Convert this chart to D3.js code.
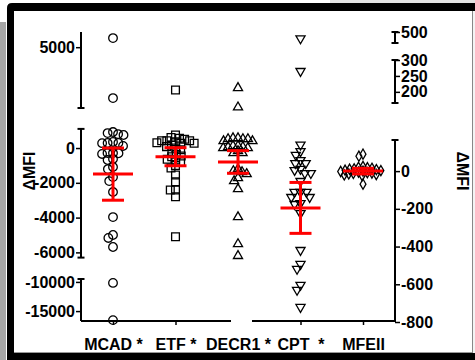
<!DOCTYPE html>
<meta charset="utf-8">
<style>
body { margin: 0; background: #fff; }
svg { display: block; }
.tick text, .cat { font-family: "Liberation Sans Narrow", "Arial Narrow", sans-serif; font-weight: bold; font-size: 16px; fill: #000; }
.tick line { stroke: #000; stroke-width: 1.5px; }
.title { font-family: "Liberation Sans", Arial, sans-serif; font-weight: bold; font-size: 16px; }
.axisline { stroke: #000; stroke-width: 2px; }
.mark { fill: none; stroke: #000; stroke-width: 1.3px; }
.err { stroke: #ff0000; stroke-width: 3px; fill: none; }
</style>
<body>
<script src="https://d3js.org/d3.v7.min.js"></script>
<script>

// categories and their labels
var categories = ["MCAD", "ETF", "DECR1", "CPT", "MFEII"];
var catLabels = ["MCAD *", "ETF *", "DECR1 *", "CPT  *", "MFEII"];
var catAxis = ["left", "left", "left", "right", "right"];

// individual values
var mcad = [5600, 1650, 920, 860, 800, 750, 350, 290, 290, 280, 120, -290, -290, -340, -300,
            -630, -690, -1090, -1210, -1670, -1900, -2530, -3970, -5000, -5170, -5690, -10170, -16550];
var etf = [2180, 750, 600, 560, 500, 420, 420, 420, 360, 300, 270, 270, 170, 80, 0, -100, -200,
           -360, -460, -500, -650, -690, -790, -1000, -1150, -1550, -1940, -2410, -2410, -2800, -5100];
var decr1 = [2320, 1050, 570, 570, 520, 520, 520, 400, 400, 120, 120, 60, 60, 0, 0, -170, -290, -290,
             -1210, -1320, -1380, -1490, -1720, -1900, -2360, -3970, -5520, -6200];
var cpt = [480, 265, 140, 105, 85, 58, 42, 42, 11, 5, -11, -11, -53, -111, -111, -111, -138, -138,
           -170, -175, -223, -419, -493, -519, -604, -630, -721];
var mfeii = [90, 79, 25, 20, 18, 15, 12, 10, 8, 5, 3, 0, -2, -5, -8, -10, -12, -15, -18, -20, -24, -69];

// mean and SD bars
var means = [-1500, -500, -800, -195, 0];
var sds = [1500, 520, 650, 135, 15];

// tick labels
var leftTicksTop = [5000], leftTicksMid = [0, -2000, -4000, -6000], leftTicksLow = [-10000, -15000];
var rightTicksTop = [500], rightTicksMid = [200, 250, 300], rightTicksLow = [0, -200, -400, -600, -800];

var width = 475, height = 360;

var svg = d3.select("body").append("svg")
    .attr("width", width)
    .attr("height", height);

// frame around the picture
svg.append("rect").attr("x", 330).attr("y", 0).attr("width", 145).attr("height", 3).attr("fill", "#e4e4e4");
svg.append("rect").attr("x", 0).attr("y", 22).attr("width", 6).attr("height", 338).attr("fill", "#a6a6a6");
svg.append("path").attr("d", "M7,360V8Q7,3 12,3H475V360Z").attr("fill", "#000");
svg.append("rect").attr("x", 14).attr("y", 11).attr("width", 458).attr("height", 342).attr("fill", "#fff");
svg.append("rect").attr("x", 472).attr("y", 11).attr("width", 1).attr("height", 342).attr("fill", "#888");
svg.append("rect").attr("x", 473).attr("y", 11).attr("width", 2).attr("height", 342).attr("fill", "#f4f4f4");
svg.append("rect").attr("x", 14).attr("y", 352).attr("width", 458).attr("height", 1).attr("fill", "#999");

// x scale
var x = d3.scalePoint().domain(categories).range([81, 395]).padding(0.512);
var xLeft = x.range()[0], xRight = x.range()[1];

// broken y axes: [bottom cap, top cap]
var leftSegs = [
  {dom: [1000, 6000], rng: [108, 32], ticks: leftTicksTop, caps: [true, false]},
  {dom: [-6300, 1100], rng: [257.6, 128.9], ticks: leftTicksMid, caps: [true, true]},
  {dom: [-16700, -9500], rng: [321, 279], ticks: leftTicksLow, caps: [false, true]}
];
var rightSegs = [
  {dom: [466, 500], rng: [43, 32], ticks: rightTicksTop, caps: [true, true]},
  {dom: [165, 300], rng: [103, 60], ticks: rightTicksMid, caps: [true, true]},
  {dom: [-800, 165], rng: [322, 140], ticks: rightTicksLow, caps: [false, true]}
];

function drawSeg(seg, orient, x0) {
  seg.scale = d3.scaleLinear().domain(seg.dom).range(seg.rng);
  var ax = (orient === "left" ? d3.axisLeft(seg.scale) : d3.axisRight(seg.scale))
      .tickValues(seg.ticks).tickSize(5).tickPadding(1)
      .tickFormat(function(d) { return String(d); });
  var g = svg.append("g").attr("transform", "translate(" + x0 + ",0)").call(ax);
  g.select(".domain").remove();
  g.append("line").attr("class", "axisline").attr("y1", seg.rng[0]).attr("y2", seg.rng[1]);
  seg.caps.forEach(function(c, i) {
    if (c) g.append("line").attr("class", "axisline")
        .attr("x1", -3.5).attr("x2", 3.5).attr("y1", seg.rng[i]).attr("y2", seg.rng[i]);
  });
}
leftSegs.forEach(function(s) { drawSeg(s, "left", xLeft); });
rightSegs.forEach(function(s) { drawSeg(s, "right", xRight); });

function piece(segs) {
  return function(v) {
    var s = segs.find(function(s) { return v >= s.dom[0] && v <= s.dom[1]; });
    return s.scale(v);
  };
}
var yL = piece(leftSegs), yR = piece(rightSegs);

// x axis, broken between DECR1 and CPT
var xg = svg.append("g").attr("transform", "translate(0,321)")
    .call(d3.axisBottom(x).tickSize(4).tickPadding(14).tickFormat(function(d, i) { return catLabels[i]; }));
xg.select(".domain").remove();
xg.selectAll(".tick text").attr("class", "cat").style("white-space", "pre");
xg.selectAll(".tick line").filter(function(d) { return d === "DECR1"; }).remove();
xg.append("line").attr("class", "axisline").attr("x1", xLeft).attr("x2", x("DECR1") - 7);
xg.append("line").attr("class", "axisline").attr("x1", x("DECR1") + 14).attr("x2", xRight);

// axis titles
svg.append("text").attr("class", "title").attr("text-anchor", "middle")
    .attr("transform", "translate(35,171) rotate(-90)").text("\u0394MFI");
svg.append("text").attr("class", "title").attr("text-anchor", "middle")
    .attr("transform", "translate(457,171) rotate(90)").text("\u0394MFI");

// spread points sideways so they do not stack
function swarm(ys, d) {
  var order = ys.map(function(y, i) { return i; }).sort(function(a, b) { return ys[a] - ys[b]; });
  var placed = [], xs = [];
  order.forEach(function(i) {
    var y = ys[i], blocked = [];
    placed.forEach(function(p) {
      var dy = Math.abs(p.y - y);
      if (dy < d) { var w = Math.sqrt(d * d - dy * dy); blocked.push([p.x - w, p.x + w]); }
    });
    var cands = [0];
    blocked.forEach(function(b) { cands.push(b[0], b[1]); });
    cands.sort(function(a, b) { return Math.abs(a) - Math.abs(b); });
    var cx = cands.find(function(c) { return blocked.every(function(b) { return c <= b[0] || c >= b[1]; }); });
    xs[i] = cx;
    placed.push({x: cx, y: y});
  });
  return xs;
}

var series = [mcad, etf, decr1, cpt, mfeii];
var shapes = [
  d3.symbol(d3.symbolCircle, 58),
  d3.symbol(d3.symbolSquare, 60),
  d3.symbol(d3.symbolTriangle, 36),
  d3.symbol(d3.symbolTriangle, 36),
  d3.symbol(d3.symbolDiamond, 30)
];
var spread = [5.5, 5.2, 5, 6, 4.6];

series.forEach(function(vals, k) {
  var y = catAxis[k] === "left" ? yL : yR;
  var ys = vals.map(y);
  var xs = swarm(ys, spread[k]);
  svg.append("g").selectAll("path")
    .data(vals)
    .enter().append("path")
      .attr("class", "mark")
      .attr("d", shapes[k])
      .attr("transform", function(d, i) {
        return "translate(" + (x(categories[k]) + xs[i]) + "," + ys[i] + ")" + (k === 3 ? " rotate(180)" : "");
      });
});

// mean +/- SD
categories.forEach(function(c, k) {
  var y = catAxis[k] === "left" ? yL : yR;
  var cx = x(c), g = svg.append("g");
  var top = y(means[k] + sds[k]), bot = y(means[k] - sds[k]), mid = y(means[k]);
  g.append("line").attr("class", "err").attr("x1", cx).attr("x2", cx).attr("y1", top).attr("y2", bot);
  g.append("line").attr("class", "err").attr("x1", cx - 11).attr("x2", cx + 11).attr("y1", top).attr("y2", top);
  g.append("line").attr("class", "err").attr("x1", cx - 11).attr("x2", cx + 11).attr("y1", bot).attr("y2", bot);
  g.append("line").attr("class", "err").attr("x1", cx - 20).attr("x2", cx + 20).attr("y1", mid).attr("y2", mid);
});

</script>
</body>
